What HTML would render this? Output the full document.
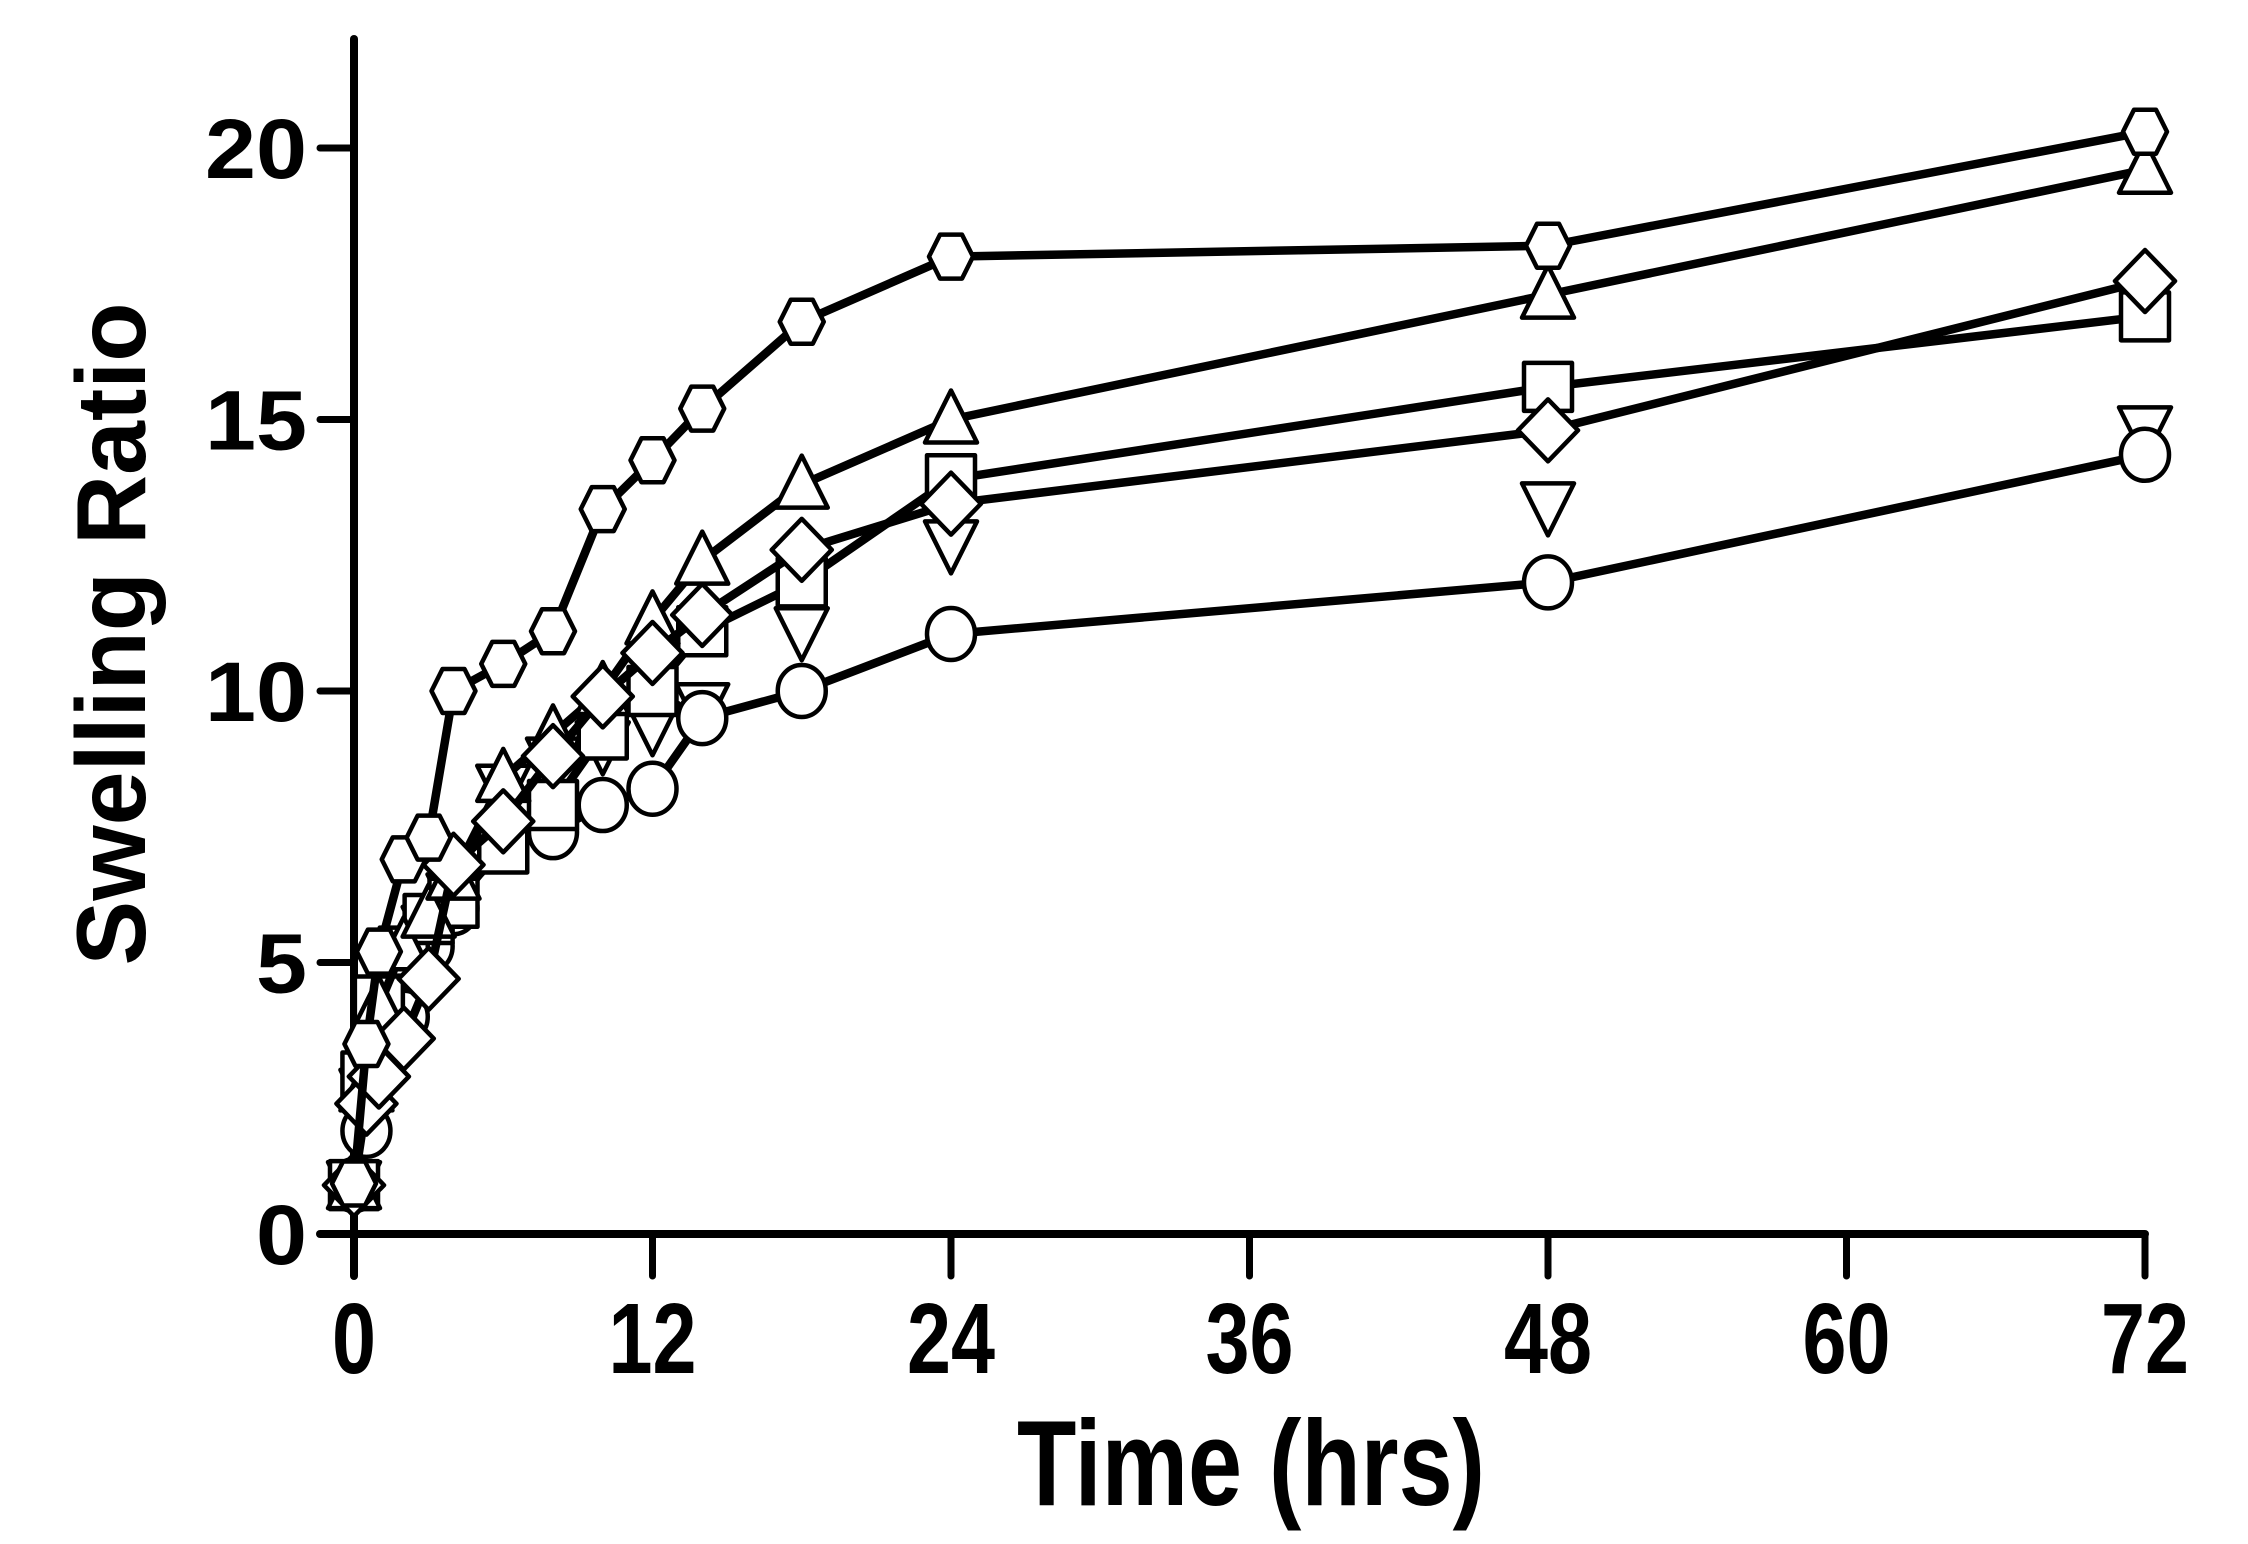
<!DOCTYPE html>
<html><head><meta charset="utf-8"><style>
html,body{margin:0;padding:0;background:#fff;}
svg{display:block;}
</style></head><body>
<svg id="chart" width="2248" height="1544" viewBox="0 0 2248 1544" xmlns="http://www.w3.org/2000/svg">
<g id="axes"></g>
<g id="series"></g>
</svg>
<script>
const times = [0, 0.5, 1, 2, 3, 4, 6, 8, 10, 12, 14, 18, 24, 48, 72];
const hexagonValues = [0.93, 3.5, 5.2, 6.9, 7.3, 10.0, 10.5, 11.1, 13.35, 14.25, 15.2, 16.8, 18.0, 18.2, 20.3];
const triangleUpValues = [0.9, 2.7, 4.2, 5.3, 5.9, 6.6, 8.4, 9.2, 10.0, 11.3, 12.4, 13.8, 15.0, 17.3, 19.6];
const squareValues = [0.9, 2.9, 4.3, 5.2, 5.8, 6.1, 7.1, 7.9, 9.2, 10.0, 11.1, 12.0, 13.9, 15.6, 16.9];
const diamondValues = [0.9, 2.4, 2.9, 3.6, 4.7, 6.8, 7.6, 8.8, 9.9, 10.7, 11.4, 12.6, 13.45, 14.8, 17.55];
const triangleDownValues = [0.9, 2.6, 4.0, 5.0, 5.6, 6.2, 8.2, 8.7, 9.0, 9.35, 9.7, 11.1, 12.7, 13.4, 14.8];
const circleValues = [0.9, 1.9, 3.0, 4.0, 5.3, 6.0, 7.2, 7.4, 7.9, 8.2, 9.5, 10.0, 11.05, 12.0, 14.35];
const xTicks = [0, 12, 24, 36, 48, 60, 72];
const yTicks = [0, 5, 10, 15, 20];

const NS = 'http://www.w3.org/2000/svg';
const X0 = 354, X1 = 2145, Y0 = 1234, Y20 = 148;
function xs(t){ return X0 + (X1 - X0) * t / 72; }
function ys(v){ return Y0 - (Y0 - Y20) * v / 20; }
function mk(tag, attrs, parent){ const e = document.createElementNS(NS, tag); for (const k in attrs) e.setAttribute(k, attrs[k]); parent.appendChild(e); return e; }

const axes = document.getElementById('axes');
let el;
el = mk('line', {x1: X0, y1: 39, x2: X0, y2: 1276, stroke: '#000', 'stroke-width': 8, 'stroke-linecap': 'round'}, axes);


el = mk('line', {x1: 320, y1: Y0, x2: X1, y2: Y0, stroke: '#000', 'stroke-width': 8, 'stroke-linecap': 'round'}, axes);


yTicks.forEach(v => {
  const y = ys(v);
  const t = mk('line', {x1: 320, y1: y, x2: X0, y2: y, stroke: '#000', 'stroke-width': 7, 'stroke-linecap': 'round'}, axes);
  
  
  const lab = mk('text', {x: 307, y: y + 30, 'text-anchor': 'end', 'font-family': 'Liberation Sans, sans-serif', 'font-weight': 'bold', 'font-size': 84}, axes);
  lab.textContent = String(v);
  lab.setAttribute('textLength', String(v).length * 51);
  lab.setAttribute('lengthAdjust', 'spacingAndGlyphs');
  
  
});
xTicks.forEach(v => {
  const x = xs(v);
  const t = mk('line', {x1: x, y1: Y0, x2: x, y2: 1276, stroke: '#000', 'stroke-width': 7, 'stroke-linecap': 'round'}, axes);
  
  
  const lab = mk('text', {x: x, y: 1373, 'text-anchor': 'middle', 'font-family': 'Liberation Sans, sans-serif', 'font-weight': 'bold', 'font-size': 100}, axes);
  lab.textContent = String(v);
  lab.setAttribute('textLength', String(v).length * 44);
  lab.setAttribute('lengthAdjust', 'spacingAndGlyphs');
  
  
});
el = mk('text', {x: 1251, y: 1505, 'text-anchor': 'middle', 'font-family': 'Liberation Sans, sans-serif', 'font-weight': 'bold', 'font-size': 122, textLength: 468, lengthAdjust: 'spacingAndGlyphs'}, axes);
el.textContent = 'Time (hrs)';


el = mk('text', {x: 0, y: 0, 'text-anchor': 'middle', 'font-family': 'Liberation Sans, sans-serif', 'font-weight': 'bold', 'font-size': 98, textLength: 663, lengthAdjust: 'spacingAndGlyphs', transform: 'translate(145,634) rotate(-90)'}, axes);
el.textContent = 'Swelling Ratio';



const seriesG = document.getElementById('series');
function marker(shape, x, y, g){
  const st = {fill: '#fff', stroke: '#000', 'stroke-width': 4.5, 'stroke-linejoin': 'round'};
  let e;
  if (shape === 'circle') e = mk('ellipse', Object.assign({cx: x, cy: y, rx: 24, ry: 26}, st), g);
  else if (shape === 'square') e = mk('rect', Object.assign({x: x - 24, y: y - 24, width: 48, height: 48}, st), g);
  else if (shape === 'diamond') e = mk('polygon', Object.assign({points: `${x},${y-31} ${x+30},${y} ${x},${y+31} ${x-30},${y}`}, st), g);
  else if (shape === 'triUp') e = mk('polygon', Object.assign({points: `${x},${y-29} ${x+26},${y+23} ${x-26},${y+23}`}, st), g);
  else if (shape === 'triDown') e = mk('polygon', Object.assign({points: `${x},${y+29} ${x+26},${y-23} ${x-26},${y-23}`}, st), g);
  else e = mk('polygon', Object.assign({points: `${x-22},${y} ${x-11},${y-22} ${x+11},${y-22} ${x+22},${y} ${x+11},${y+22} ${x-11},${y+22}`}, st), g);
  return e;
}
const seriesList = [
  {name: 'triangle-down', shape: 'triDown', vals: triangleDownValues, line: false},
  {name: 'circle', shape: 'circle', vals: circleValues, line: true},
  {name: 'square', shape: 'square', vals: squareValues, line: true},
  {name: 'triangle-up', shape: 'triUp', vals: triangleUpValues, line: true},
  {name: 'diamond', shape: 'diamond', vals: diamondValues, line: true},
  {name: 'hexagon', shape: 'hex', vals: hexagonValues, line: true}
];
seriesList.forEach(s => {
  const g = mk('g', {}, seriesG);
  
  
  if (s.line) {
    const pts = times.map((t, i) => xs(t) + ',' + ys(s.vals[i])).join(' ');
    const pl = mk('polyline', {points: pts, fill: 'none', stroke: '#000', 'stroke-width': 8.5, 'stroke-linejoin': 'round'}, g);
    
    
  }
  times.forEach((t, i) => {
    const m = marker(s.shape, xs(t), ys(s.vals[i]), g);
    
    
  });
});
</script>
</body></html>
